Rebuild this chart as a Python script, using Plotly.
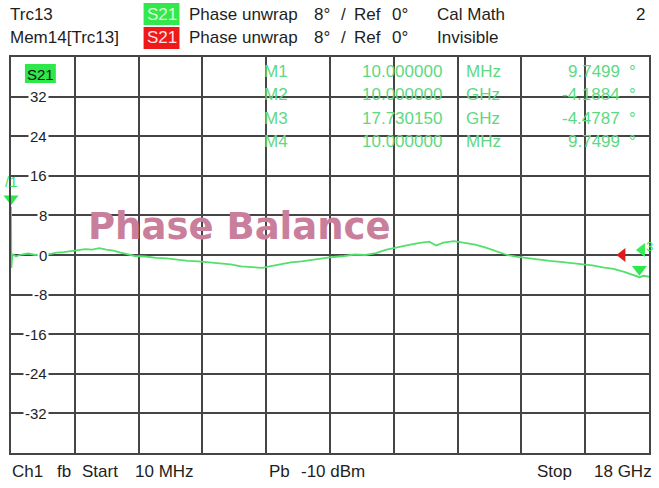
import plotly.graph_objects as go

# ---- data ----
freq_ghz = [0.01, 0.02, 0.05, 0.15, 0.3, 0.5, 0.7, 0.9, 1.1, 1.3, 1.5, 1.7, 1.9, 2.1, 2.3,
            2.5, 2.7, 2.9, 3.1, 3.3, 3.5, 3.8, 4.1, 4.4, 4.7, 5.0, 5.3, 5.6, 5.9, 6.2,
            6.5, 6.8, 7.1, 7.3, 7.6, 7.9, 8.2, 8.5, 8.8, 9.1, 9.4, 9.7, 10.0, 10.3, 10.6,
            10.9, 11.2, 11.5, 11.8, 12.0, 12.2, 12.5, 12.8, 13.1, 13.4, 13.7, 14.0, 14.3,
            14.6, 14.9, 15.2, 15.5, 15.8, 16.1, 16.4, 16.7, 17.0, 17.3, 17.5, 17.73, 17.85, 18.0]
phase_deg = [9.75, -2.6, 0.2, -0.3, 0.1, 0.3, 0.0, 0.4, 0.2, 0.5, 0.6, 0.8, 1.0, 1.2, 1.1,
             1.4, 1.1, 0.9, 0.5, 0.1, -0.2, -0.3, -0.6, -0.7, -1.0, -1.2, -1.3, -1.5, -1.6, -1.9,
             -2.3, -2.5, -2.6, -2.3, -1.9, -1.5, -1.3, -1.0, -0.6, -0.4, -0.2, 0.1, 0.0, 0.4, 1.1,
             1.6, 2.0, 2.4, 2.7, 1.9, 2.5, 2.8, 2.5, 2.1, 1.5, 0.8, 0.0, -0.4,
             -0.7, -1.0, -1.2, -1.4, -1.6, -1.8, -2.1, -2.5, -2.8, -3.4, -3.9, -4.48, -4.2, -4.4]

y_ticks = [32, 24, 16, 8, 0, -8, -16, -24, -32]

marker_names = ["M1", "M2", "M3", "M4"]
marker_stim = ["10.000000", "10.000000", "17.730150", "10.000000"]
marker_units = ["MHz", "GHz", "GHz", "MHz"]
marker_vals = ["9.7499", "-4.1884", "-4.4787", "9.7499"]
marker_freq_ghz = [0.01, 17.73]
marker_phase = [9.7499, -4.4787]

X0, X1 = 0.01, 18.0
Y0, Y1 = -40, 40

# ---- layout geometry (reference pixels) ----
W, H = 659, 488
PLOT_L, PLOT_R, PLOT_T, PLOT_B = 11, 651, 57, 453
L, T, R, B = PLOT_L, PLOT_T, W - PLOT_R, H - PLOT_B
PW, PH = PLOT_R - PLOT_L, PLOT_B - PLOT_T


def px(x):
    return (x - PLOT_L) / PW


def py(y):
    return (PLOT_B - y) / PH


FONT = "Liberation Sans, Arial, sans-serif"
TXT = "#1e1e1e"
GRID = "#454545"
TGREEN = "#5fd882"
LGREEN = "#52e06c"

fig = go.Figure()

fig.add_trace(go.Scatter(x=freq_ghz, y=phase_deg, mode="lines",
                         line=dict(color=LGREEN, width=1.8), showlegend=False,
                         hoverinfo="skip"))

# marker triangles (above their points)
fig.add_trace(go.Scatter(x=marker_freq_ghz, y=[v + 1.6 for v in marker_phase], mode="markers",
                         marker=dict(symbol="triangle-down", size=13, color="#2fe84f"),
                         showlegend=False, cliponaxis=False, hoverinfo="skip"))
# reference level indicators
fig.add_trace(go.Scatter(x=[17.25], y=[0], mode="markers",
                         marker=dict(symbol="triangle-left", size=12, color="#e01818"),
                         showlegend=False, cliponaxis=False, hoverinfo="skip"))
fig.add_trace(go.Scatter(x=[17.8], y=[1.0], mode="markers",
                         marker=dict(symbol="triangle-left", size=12, color="#33ee55"),
                         showlegend=False, cliponaxis=False, hoverinfo="skip"))

ann = []


def text(x, y, s, size=17, color=TXT, anchor="left", **kw):
    ann.append(dict(x=px(x), y=py(y), xref="paper", yref="paper", text=s, showarrow=False,
                    xanchor=anchor, yanchor="middle", font=dict(family=FONT, size=size, color=color),
                    **kw))


# header
for row_y, name, tail in [(14, "Trc13", "Cal Math"), (38, "Mem14[Trc13]", "Invisible")]:
    text(8, row_y, name)
    text(188, row_y, "Phase unwrap")
    text(313, row_y, "8°")
    text(340, row_y, "/")
    text(353, row_y, "Ref")
    text(391, row_y, "0°")
    text(436, row_y, tail)
text(636, 14, "2")

# header badges
shapes = []
shapes.append(dict(type="rect", xref="paper", yref="paper", x0=px(144), x1=px(180), y0=py(25), y1=py(3),
                   fillcolor="#33e84a", line=dict(width=0), layer="below"))
shapes.append(dict(type="rect", xref="paper", yref="paper", x0=px(144), x1=px(180), y0=py(49), y1=py(27),
                   fillcolor="#ee1a1a", line=dict(width=0), layer="below"))
text(162, 14, "S21", color="#d8ffd8", anchor="center")
text(162, 38, "S21", color="#ffe0e0", anchor="center")

# in-plot badge
shapes.append(dict(type="rect", xref="paper", yref="paper", x0=px(25), x1=px(56), y0=py(83), y1=py(64),
                   fillcolor="#2ee84a", line=dict(width=0), layer="above"))
text(40.5, 74, "S21", size=15, color="#111111", anchor="center")

# y tick labels inside the first column
for v in y_ticks:
    ann.append(dict(x=px(49), y=v, xref="paper", yref="y", text=str(v), showarrow=False,
                    xanchor="right", yanchor="middle", bgcolor="white", borderpad=1,
                    font=dict(family=FONT, size=15, color=TXT)))

# marker table
rows_y = [72, 95, 118, 141]
for i in range(4):
    y = rows_y[i]
    text(263, y, marker_names[i], color=TGREEN)
    text(445, y, marker_stim[i], color=TGREEN, anchor="right")
    text(465, y, marker_units[i], color=TGREEN)
    text(624, y, marker_vals[i], color=TGREEN, anchor="right")
    text(629, y, "°", color=TGREEN)

# marker labels near trace
text(12, 181, "/1", size=15, color="#33e855", anchor="center")
text(652, 246, "3", size=13, color="#33e855", anchor="center")

# watermark
ann.append(dict(x=px(86), y=py(226), xref="paper", yref="paper", text="<b>Phase Balance</b>",
                showarrow=False, xanchor="left", yanchor="middle",
                font=dict(family="DejaVu Sans, sans-serif", size=37, color="#c97f9c")))

# footer
for x, s in [(10, "Ch1"), (55, "fb"), (80, "Start"), (133, "10 MHz"), (268, "Pb"), (300, "-10 dBm"),
             (537, "Stop"), (594, "18 GHz")]:
    text(x, 471, s)

fig.update_layout(
    width=W, height=H,
    margin=dict(l=L, r=R, t=T, b=B),
    paper_bgcolor="white", plot_bgcolor="white",
    annotations=ann, shapes=shapes,
    xaxis=dict(range=[X0, X1], tick0=X0, dtick=(X1 - X0) / 10, showgrid=True, gridcolor=GRID,
               gridwidth=1.5, showticklabels=False, zeroline=False, showline=True, mirror=True,
               linecolor=GRID, linewidth=2, ticks=""),
    yaxis=dict(range=[Y0, Y1], tick0=0, dtick=8, showgrid=True, gridcolor=GRID, gridwidth=1.5,
               showticklabels=False, zeroline=False, showline=True, mirror=True,
               linecolor=GRID, linewidth=2, ticks=""),
)

fig.write_html("out.html", config={"displayModeBar": False},
               post_script="document.body.style.margin='0';document.body.style.padding='0';")
